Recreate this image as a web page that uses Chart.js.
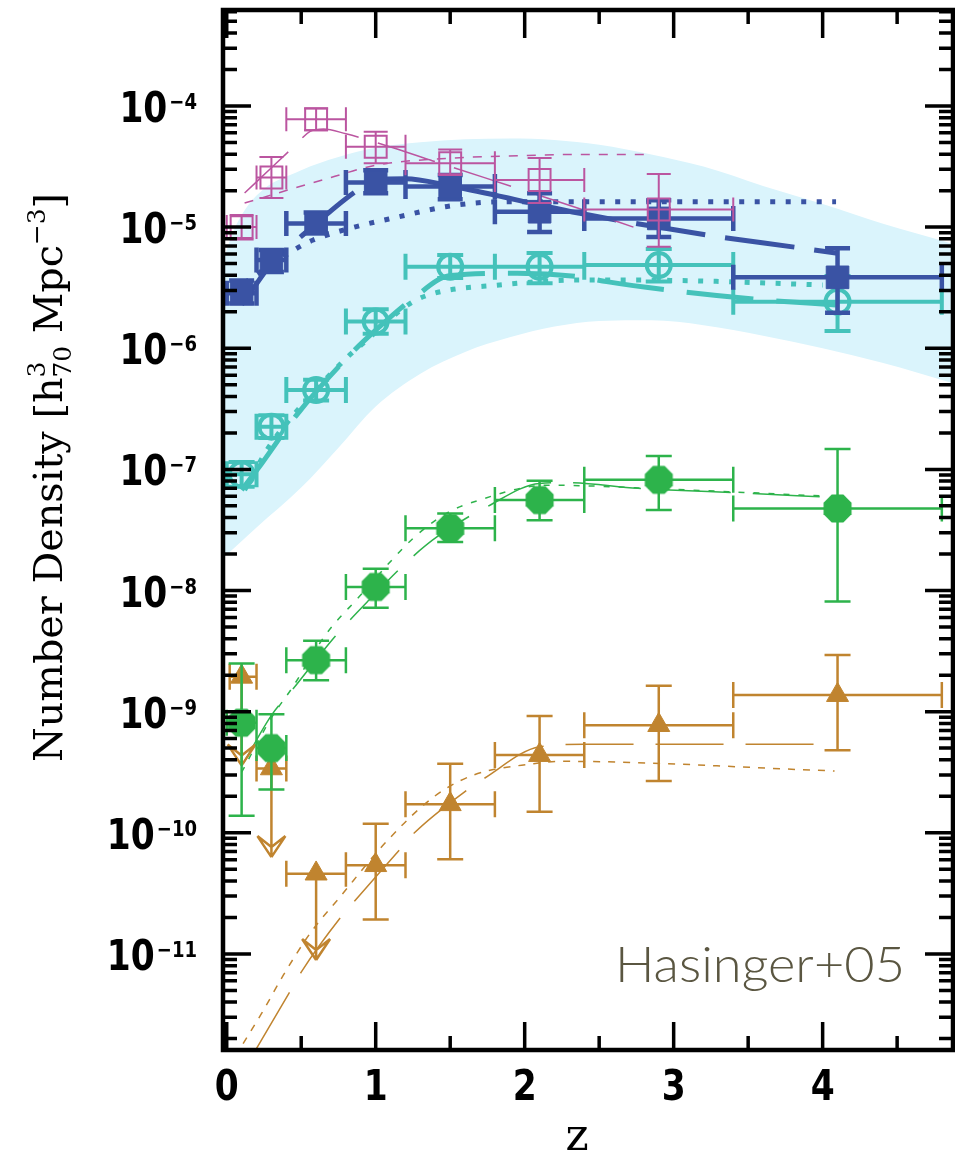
<!DOCTYPE html>
<html>
<head>
<meta charset="utf-8">
<script src="https://cdn.jsdelivr.net/npm/chart.js@4.4.1/dist/chart.umd.min.js"></script>
<style>
  html, body { margin: 0; padding: 0; background: #fff; }
  canvas { display: block; }
</style>
</head>
<body>
<canvas id="density" width="955" height="1155"></canvas>
<script>
// redshift bins (centre, lower and upper edge)
const zBin = [0.1, 0.3, 0.6, 1.0, 1.5, 2.1, 2.9, 4.1];
const zLo  = [0.0, 0.2, 0.4, 0.8, 1.2, 1.8, 2.4, 3.4];
const zHi  = [0.2, 0.4, 0.8, 1.2, 1.8, 2.4, 3.4, 4.8];

// brightest bin (open squares)
const magVal = [1.0e-5, 2.57e-5, 7.76e-5, 4.61e-5, 3.37e-5, 2.45e-5, 1.40e-5];
const magLo  = [7.9e-6, 1.74e-5, 6.3e-5, 3.37e-5, 2.69e-5, 1.58e-5, 6.9e-6];
const magHi  = [1.26e-5, 3.8e-5, 9.55e-5, 6.14e-5, 4.38e-5, 3.72e-5, 2.75e-5];

// filled squares
const bluVal = [2.84e-6, 5.35e-6, 1.07e-5, 2.33e-5, 2.16e-5, 1.34e-5, 1.18e-5, 3.85e-6];
const bluLo  = [2.34e-6, 4.27e-6, 8.9e-6, 1.9e-5, 1.7e-5, 9.1e-6, 8.3e-6, 1.96e-6];
const bluHi  = [3.63e-6, 6.46e-6, 1.32e-5, 2.95e-5, 2.69e-5, 1.9e-5, 1.67e-5, 6.68e-6];

// open circles
const cyaVal = [9.1e-8, 2.25e-7, 4.52e-7, 1.66e-6, 4.71e-6, 4.71e-6, 4.86e-6, 2.42e-6];
const cyaLo  = [7.2e-8, 1.82e-7, 3.7e-7, 1.32e-6, 3.8e-6, 3.44e-6, 3.55e-6, 1.39e-6];
const cyaHi  = [1.15e-7, 2.8e-7, 5.5e-7, 2.1e-6, 5.9e-6, 6.1e-6, 6.6e-6, 3.95e-6];

// filled octagons
const grnVal = [8.1e-10, 5.0e-10, 2.66e-9, 1.07e-8, 3.26e-8, 5.58e-8, 8.2e-8, 4.76e-8];
const grnLo  = [1.38e-10, 2.28e-10, 1.82e-9, 7.2e-9, 2.52e-8, 3.81e-8, 4.61e-8, 8.1e-9];
const grnHi  = [2.5e-9, 9.5e-10, 3.85e-9, 1.51e-8, 4.33e-8, 8.05e-8, 1.29e-7, 1.47e-7];

// faintest bin (triangles), first three are upper limits
const brnZLo = [0.02, 0.2, 0.4, 0.8, 1.2, 1.8, 2.4, 3.4];
const brnVal = [1.94e-9, 3.4e-10, 4.6e-11, 5.4e-11, 1.72e-10, 4.38e-10, 7.74e-10, 1.37e-9];
const brnLo  = [3.6e-10, 6.3e-11, 8.9e-12, 1.92e-11, 6.05e-11, 1.49e-10, 2.67e-10, 4.8e-10];
const brnHi  = [1.94e-9, 3.4e-10, 4.6e-11, 1.19e-10, 3.72e-10, 9.2e-10, 1.64e-9, 2.93e-9];
const brnLim = [true, true, true, false, false, false, false, false];

// model curves
const magModAZ = [0.12, 0.3, 0.45, 0.56, 0.65, 0.8, 1.0, 1.5, 2.0, 2.4, 2.73];
const magModA  = [1.91e-5, 3.09e-5, 4.61e-5, 6.17e-5, 6.46e-5, 5.89e-5, 5.01e-5, 3.16e-5, 2.0e-5, 1.38e-5, 1.0e-5];
const magModBZ = [0.12, 0.42, 0.7, 1.0, 1.52, 2.0, 2.35, 2.85];
const magModB  = [1.58e-5, 2.04e-5, 2.57e-5, 3.24e-5, 3.72e-5, 3.89e-5, 3.98e-5, 3.98e-5];

const bluModAZ = [0.1, 0.17, 0.3, 0.525, 0.86, 1.0, 1.2, 1.5, 2.37, 3.22, 3.82, 4.1];
const bluModA  = [2.29e-6, 3.02e-6, 5.01e-6, 8.91e-6, 1.95e-5, 2.45e-5, 2.51e-5, 2.19e-5, 1.30e-5, 8.61e-6, 6.81e-6, 6.08e-6];
const bluModBZ = [0.12, 0.47, 0.58, 0.87, 1.16, 1.48, 1.83, 2.37, 3.2, 4.09];
const bluModB  = [3.47e-6, 6.68e-6, 7.82e-6, 1.01e-5, 1.22e-5, 1.48e-5, 1.62e-5, 1.62e-5, 1.62e-5, 1.62e-5];

const cyaModAZ = [0.1, 0.235, 0.47, 0.83, 1.0, 1.25, 1.5, 1.95, 2.37, 2.55, 3.0, 3.6, 4.09];
const cyaModA  = [6.76e-8, 1.12e-7, 2.82e-7, 8.91e-7, 1.41e-6, 2.57e-6, 3.98e-6, 4.17e-6, 3.89e-6, 3.55e-6, 2.99e-6, 2.51e-6, 2.28e-6];
const cyaModBZ = [0.12, 0.28, 0.47, 0.83, 0.905, 1.23, 1.39, 1.83, 2.37, 3.0, 4.0];
const cyaModB  = [6.76e-8, 1.51e-7, 3.02e-7, 8.91e-7, 1.07e-6, 2.34e-6, 2.84e-6, 3.33e-6, 3.66e-6, 3.63e-6, 3.33e-6];

const grnModAZ = [0.11, 0.3, 0.447, 0.727, 0.95, 1.25, 1.42, 1.745, 2.1, 2.28, 2.76, 3.52, 3.98];
const grnModA  = [3.72e-10, 9.33e-10, 1.55e-9, 4.17e-9, 8.22e-9, 1.91e-8, 2.82e-8, 4.9e-8, 7.66e-8, 7.76e-8, 6.97e-8, 6.34e-8, 5.94e-8];
const grnModBZ = [0.1, 0.3, 0.436, 0.67, 0.89, 1.085, 1.25, 1.48, 1.68, 2.15, 2.9, 4.0];
const grnModB  = [3.16e-10, 8.91e-10, 1.55e-9, 4.42e-9, 8.91e-9, 1.66e-8, 2.69e-8, 4.37e-8, 5.5e-8, 7.41e-8, 6.92e-8, 6.03e-8];

const brnModAZ = [0.19, 0.425, 0.5, 0.77, 0.86, 1.16, 1.26, 1.61, 1.73, 2.1, 2.4, 3.95];
const brnModA  = [1.58e-12, 4.9e-12, 7.08e-12, 2.04e-11, 2.75e-11, 7.24e-11, 1.0e-10, 2.24e-10, 2.82e-10, 5.13e-10, 5.37e-10, 5.37e-10];
const brnModBZ = [0.11, 0.235, 0.38, 0.56, 0.76, 1.07, 1.39, 1.655, 2.06, 2.24, 4.08];
const brnModB  = [1.82e-12, 3.24e-12, 6.67e-12, 1.48e-11, 2.95e-11, 8.41e-11, 1.98e-10, 2.99e-10, 3.72e-10, 3.89e-10, 3.24e-10];

// shaded envelope
const bandZ  = [-0.03, 0.05, 0.2, 0.5, 0.75, 1.0, 1.3, 1.6, 1.9, 2.2, 2.5, 2.85, 3.2, 3.6, 4.0, 4.4, 4.88];
const bandHi = [5.01e-6, 9.55e-6, 1.82e-5, 2.95e-5, 3.8e-5, 4.52e-5, 5.01e-5, 5.31e-5, 5.4e-5, 5.25e-5, 4.79e-5, 3.98e-5, 3.16e-5, 2.19e-5, 1.55e-5, 1.07e-5, 7.24e-6];
const bandLo = [1.82e-8, 2.24e-8, 3.31e-8, 7.08e-8, 1.51e-7, 3.31e-7, 6.17e-7, 9.33e-7, 1.23e-6, 1.51e-6, 1.68e-6, 1.70e-6, 1.55e-6, 1.27e-6, 1.0e-6, 7.59e-7, 5.13e-7];

// axes
const yTickExp = [-11, -10, -9, -8, -7, -6, -5, -4];
const xTicks = [0, 1, 2, 3, 4];
const xMinor = [0.5, 1.5, 2.5, 3.5, 4.5];

const C = {
  mag: '#bb55a0', blu: '#3a53a4', cya: '#44c2ba', grn: '#2db34b', brn: '#c0842f',
  band: '#daf4fc', note: '#5a5641'
};

function xy(zs, vs) { return zs.map((z, i) => ({ x: z, y: vs[i] })); }

function octagon(r, color) {
  const R = r / Math.cos(Math.PI / 8);
  const c = document.createElement('canvas');
  c.width = c.height = Math.ceil(2 * R) + 2;
  const g = c.getContext('2d'), m = c.width / 2;
  g.fillStyle = color;
  g.beginPath();
  for (let k = 0; k < 8; k++) {
    const t = Math.PI / 8 + k * Math.PI / 4;
    g[k ? 'lineTo' : 'moveTo'](m + R * Math.cos(t), m + R * Math.sin(t));
  }
  g.closePath();
  g.fill();
  return c;
}

function curve(zs, vs, color, width, dash) {
  return {
    data: xy(zs, vs), borderColor: color, borderWidth: width, borderDash: dash,
    borderCapStyle: 'butt', pointRadius: 0, fill: false,
    cubicInterpolationMode: 'monotone', order: 1
  };
}

function marks(zs, vs, color, style, err, opts) {
  return Object.assign({
    data: xy(zs, vs), showLine: false, pointStyle: style,
    borderColor: color, pointBorderColor: color, pointBackgroundColor: color,
    order: 0, err: err
  }, opts);
}

// error bars are drawn right before their own markers
const errorBars = {
  id: 'errorBars',
  beforeDatasetDraw(chart, args) {
    const ds = chart.data.datasets[args.index];
    const e = ds.err;
    if (!e) return;
    const { ctx, chartArea: a, scales: { x, y } } = chart;
    const seg = (x0, y0, x1, y1) => { ctx.moveTo(x0, y0); ctx.lineTo(x1, y1); };
    ctx.save();
    ctx.beginPath();
    ctx.rect(a.left, a.top, a.right - a.left, a.bottom - a.top);
    ctx.clip();
    ctx.strokeStyle = ds.borderColor;
    ctx.lineWidth = e.width;
    ctx.lineCap = 'butt';
    ctx.beginPath();
    ds.data.forEach((p, i) => {
      const px = x.getPixelForValue(p.x), py = y.getPixelForValue(p.y);
      const x0 = x.getPixelForValue(e.xlo[i]), x1 = x.getPixelForValue(e.xhi[i]);
      const yl = y.getPixelForValue(e.ylo[i]), yh = y.getPixelForValue(e.yhi[i]);
      const c = e.cap;
      seg(x0, py, x1, py);
      seg(x0, py - c, x0, py + c);
      seg(x1, py - c, x1, py + c);
      seg(px, yh, px, yl);
      if (yh < py - 1) seg(px - c, yh, px + c, yh);
      if (e.lim && e.lim[i]) {
        seg(px - 14, yl - 21, px, yl);
        seg(px, yl, px + 14, yl - 21);
        seg(px - 14, yl - 21, px, yl - 10);
        seg(px, yl - 10, px + 14, yl - 21);
      } else {
        seg(px - c, yl, px + c, yl);
      }
    });
    ctx.stroke();
    ctx.restore();
  }
};

// narrow bold numerals for the tick labels
function tickText(ctx, text, px, py, size, align) {
  ctx.save();
  ctx.font = 'bold ' + size + 'px "DejaVu Sans"';
  ctx.textAlign = align;
  ctx.translate(px, py);
  ctx.scale(0.82, 1);
  ctx.fillText(text, 0, 0);
  const w = ctx.measureText(text).width * 0.82;
  ctx.restore();
  return w;
}

// box, inward ticks on all four sides, labels and titles
const frame = {
  id: 'frame',
  afterDraw(chart) {
    const { ctx, chartArea: a, scales: { x, y } } = chart;
    const lo = y.min, hi = y.max;
    ctx.save();
    ctx.strokeStyle = '#000';
    ctx.fillStyle = '#000';
    ctx.lineCap = 'butt';

    ctx.lineWidth = 3.5;
    ctx.beginPath();
    for (let e = -12; e <= -4; e++) {
      for (let m = 1; m <= 9; m++) {
        const v = m * Math.pow(10, e);
        if (v < lo || v > hi) continue;
        const py = y.getPixelForValue(v), len = m === 1 ? 28 : 14;
        ctx.moveTo(a.left, py); ctx.lineTo(a.left + len, py);
        ctx.moveTo(a.right, py); ctx.lineTo(a.right - len, py);
      }
    }
    xTicks.concat(xMinor).forEach((v, i) => {
      const px = x.getPixelForValue(v), len = i < xTicks.length ? 28 : 14;
      ctx.moveTo(px, a.bottom); ctx.lineTo(px, a.bottom - len);
      ctx.moveTo(px, a.top); ctx.lineTo(px, a.top + len);
    });
    ctx.stroke();

    ctx.lineWidth = 4.5;
    ctx.strokeRect(a.left, a.top, a.right - a.left, a.bottom - a.top);

    // y tick labels: 10 with a raised exponent
    ctx.textBaseline = 'alphabetic';
    const right = a.left - 26;
    yTickExp.forEach(e => {
      const py = y.getPixelForValue(Math.pow(10, e));
      const sw = tickText(ctx, '\u2212' + (-e), right, py + 3, 22, 'right');
      tickText(ctx, '10', right - sw - 2, py + 16, 42, 'right');
    });

    // x tick labels
    xTicks.forEach(v => tickText(ctx, String(v), x.getPixelForValue(v), a.bottom + 50, 42, 'center'));

    ctx.font = '44px "DejaVu Serif"';
    ctx.textAlign = 'center';
    ctx.fillText('z', 577, a.bottom + 100);

    // rotated y title with sub/superscripts
    const runs = [
      { t: 'Number Density [h', f: 40, dy: 0 },
      { t: '3', f: 25, dy: -17, keep: true },
      { t: '70', f: 25, dy: 9 },
      { t: ' Mpc', f: 40, dy: 0 },
      { t: '\u22123', f: 25, dy: -17 },
      { t: ']', f: 40, dy: 0 }
    ];
    const fam = '"DejaVu Serif"';
    let w = 0, held = 0;
    runs.forEach(r => {
      ctx.font = r.f + 'px ' + fam;
      r.w = ctx.measureText(r.t).width;
      if (r.keep) { held = r.w; return; }
      w += Math.max(r.w, held); held = 0;
    });
    const span = 569;
    ctx.translate(62, 762);
    ctx.rotate(-Math.PI / 2);
    ctx.scale(span / w, 1);
    ctx.textAlign = 'left';
    let cx = 0; held = 0;
    runs.forEach(r => {
      ctx.font = r.f + 'px ' + fam;
      ctx.fillText(r.t, cx, r.dy);
      if (r.keep) { held = r.w; return; }
      cx += Math.max(r.w, held); held = 0;
    });
    ctx.restore();

    // survey label
    ctx.save();
    ctx.fillStyle = C.note;
    ctx.font = '300 49px Lato';
    ctx.textAlign = 'left';
    const label = 'Hasinger+05';
    const lw = ctx.measureText(label).width;
    ctx.translate(615, 982);
    ctx.scale(290 / lw, 1);
    ctx.fillText(label, 0, 0);
    ctx.restore();
  }
};

const datasets = [
  marks(zBin.slice(0, 7), magVal, C.mag, 'rect',
    { xlo: zLo, xhi: zHi, ylo: magLo, yhi: magHi, width: 2, cap: 12 },
    { pointRadius: 15.5, pointBorderWidth: 2, pointBackgroundColor: 'rgba(0,0,0,0)' }),
  marks(zBin, bluVal, C.blu, 'rect',
    { xlo: zLo, xhi: zHi, ylo: bluLo, yhi: bluHi, width: 4.5, cap: 12.5 },
    { pointRadius: 16, pointBorderWidth: 1 }),
  marks(zBin, cyaVal, C.cya, 'circle',
    { xlo: zLo, xhi: zHi, ylo: cyaLo, yhi: cyaHi, width: 4, cap: 13 },
    { pointRadius: 12, pointBorderWidth: 4, pointBackgroundColor: 'rgba(0,0,0,0)' }),
  marks(zBin, grnVal, C.grn, octagon(14, C.grn),
    { xlo: zLo, xhi: zHi, ylo: grnLo, yhi: grnHi, width: 2.5, cap: 13 },
    { pointRadius: 14 }),
  marks(zBin, brnVal, C.brn, 'triangle',
    { xlo: brnZLo, xhi: zHi, ylo: brnLo, yhi: brnHi, lim: brnLim, width: 2.5, cap: 13 },
    { pointRadius: 12.7, pointBorderWidth: 1 }),

  curve(magModAZ, magModA, C.mag, 1.5, [60, 20]),
  curve(magModBZ, magModB, C.mag, 1.5, [9, 9]),
  curve(bluModAZ, bluModA, C.blu, 5, [70, 20]),
  curve(bluModBZ, bluModB, C.blu, 5, [5, 10.5]),
  curve(cyaModAZ, cyaModA, C.cya, 5, [67, 23]),
  curve(cyaModBZ, cyaModB, C.cya, 5, [5, 10.5]),
  curve(grnModAZ, grnModA, C.grn, 1.5, [68, 22]),
  curve(grnModBZ, grnModB, C.grn, 1.5, [6, 9]),
  curve(brnModAZ, brnModA, C.brn, 1.5, [68, 22]),
  curve(brnModBZ, brnModB, C.brn, 1.5, [7, 8]),

  {
    data: xy(bandZ, bandHi), borderWidth: 0, borderColor: 'rgba(0,0,0,0)',
    backgroundColor: C.band, pointRadius: 0, fill: '+1',
    cubicInterpolationMode: 'monotone', order: 2
  },
  {
    data: xy(bandZ, bandLo), borderWidth: 0, borderColor: 'rgba(0,0,0,0)',
    pointRadius: 0, fill: false, cubicInterpolationMode: 'monotone', order: 2
  }
];

new Chart(document.getElementById('density'), {
  type: 'line',
  data: { datasets: datasets },
  options: {
    responsive: false,
    animation: false,
    events: [],
    layout: { autoPadding: false, padding: { left: 223, right: 2, top: 10, bottom: 105 } },
    plugins: { legend: { display: false }, tooltip: { enabled: false } },
    scales: {
      x: { type: 'linear', min: -0.025, max: 4.875, display: false },
      y: { type: 'logarithmic', min: 1.61e-12, max: 6.2e-4, display: false }
    }
  },
  plugins: [errorBars, frame]
});
</script>
</body>
</html>
